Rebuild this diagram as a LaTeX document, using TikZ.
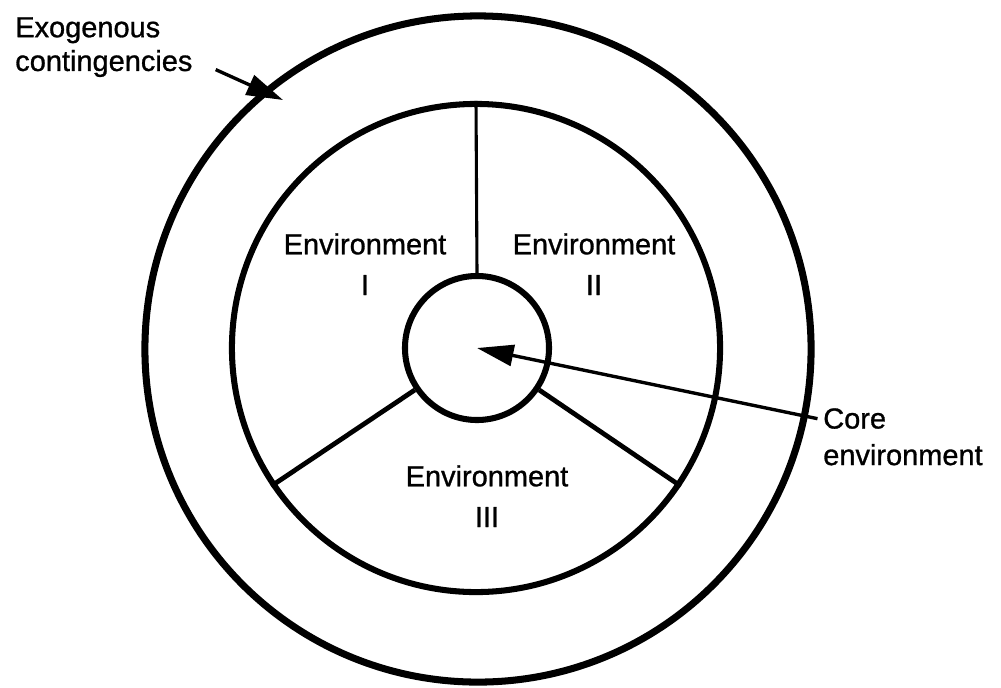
\documentclass[tikz,border=0pt]{standalone}
\usepackage{fontspec}
\setmainfont{Liberation Sans}[FakeBold=1]
\usetikzlibrary{arrows.meta}

\begin{document}
\begin{tikzpicture}[
  x=0.025cm, y=-0.025cm,
  ring/.style={circle, draw=black, inner sep=0pt},
  spoke/.style={line width=3.4pt},
  pointer/.style={-{Triangle[length=26pt, width=15pt]}, line width=2.4pt},
  lbl/.style={inner sep=0pt, align=left, anchor=north west},
  envlbl/.style={inner sep=0pt, align=center, anchor=north,
    font=\fontsize{20.6}{29}\selectfont}
]
  \useasboundingbox (0,0) rectangle (1001,687);

  % rings
  \node[ring, line width=5pt,   minimum size=16.65cm] (outer) at (478,349) {};
  \node[ring, line width=4.3pt, minimum size=12.2cm]  (inner) at (476,348) {};
  \node[ring, line width=4.3pt, minimum size=3.6cm]   (core)  at (477,348) {};

  % dividers
  \draw[line width=2.2pt] (core.90) -- (inner.90);
  \draw[spoke] (core.214) -- (inner.214);
  \draw[spoke] (core.326) -- (inner.326);

  \node[envlbl] (envI)   at (365,233) {Environment\\I};
  \node[envlbl] (envII)  at (594,233) {Environment\\II};
  \node[envlbl] (envIII) at (487,465) {Environment\\III};

  \node[lbl, font=\fontsize{20.6}{24}\selectfont] (exolbl)  at (15,17)
    {Exogenous\\contingencies};
  \node[lbl, font=\fontsize{20.6}{26}\selectfont] (corelbl) at (823,408)
    {Core\\environment};

  \coordinate (exotip) at (283,100);
  \draw[pointer] ([shift={(23,10)}]exolbl.-8) -- (exotip);
  \draw[pointer, shorten <=4pt] (corelbl.168) -- (core.center);
\end{tikzpicture}
\end{document}
